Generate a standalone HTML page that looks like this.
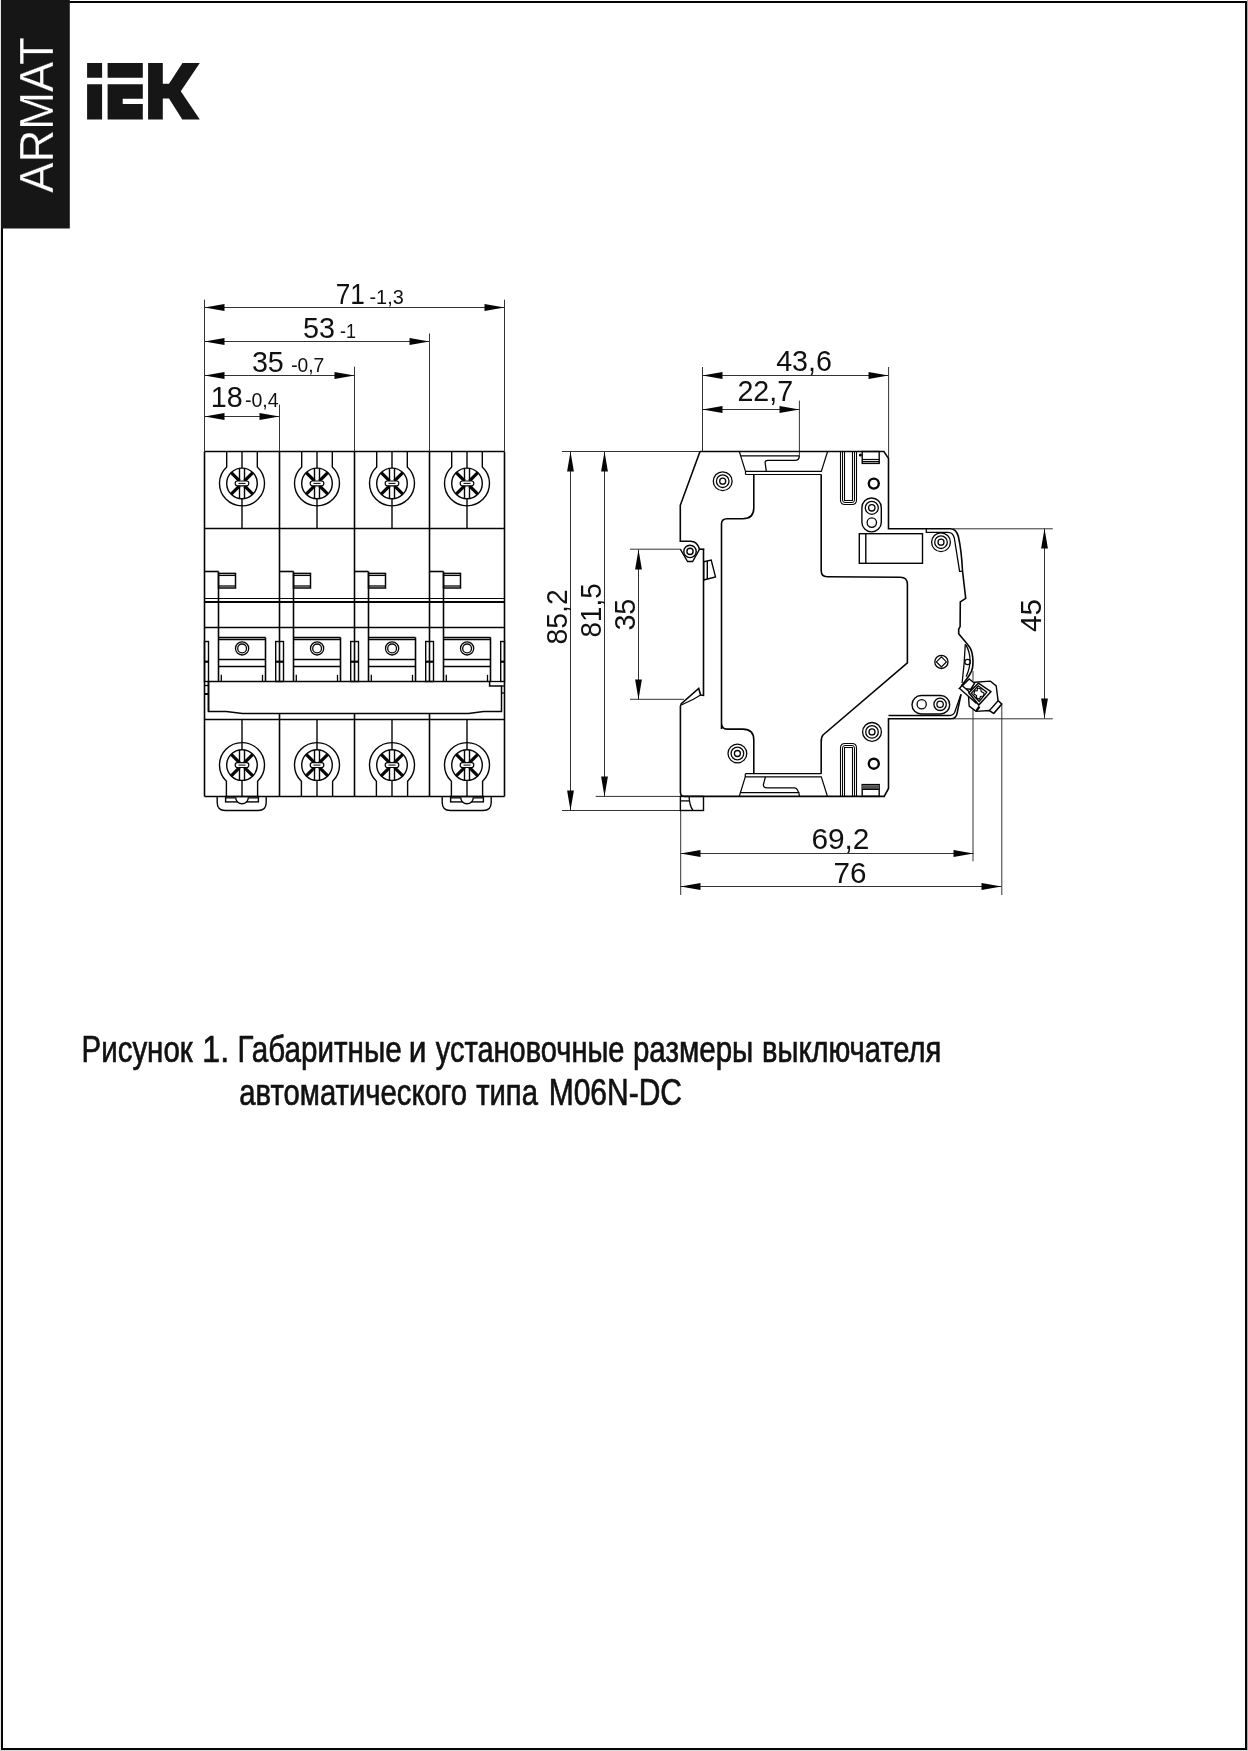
<!DOCTYPE html>
<html><head><meta charset="utf-8"><style>
html,body{margin:0;padding:0;background:#fff;}
body{width:1248px;height:1751px;overflow:hidden;position:relative;}
svg{position:absolute;left:0;top:0;will-change:transform;}
</style></head><body>
<svg width="1248" height="1751" viewBox="0 0 1248 1751" font-family="Liberation Sans, sans-serif">
<rect x="0" y="0" width="1248" height="1751" fill="#fff"/>
<rect x="0" y="0" width="1" height="1751" fill="#e6e6e6"/>
<rect x="1247" y="0" width="1" height="1751" fill="#a8a8a8"/>
<rect x="0" y="1750" width="1248" height="1" fill="#d8d8d8"/>
<rect x="2" y="2" width="1244" height="1747" fill="none" stroke="#050505" stroke-width="2"/>
<rect x="1" y="0" width="68.8" height="228.5" fill="#161616"/>
<text transform="translate(52.5,192.8) rotate(-90)" font-size="47.9" fill="#fff" stroke="#161616" stroke-width="0.3" textLength="155.5" lengthAdjust="spacingAndGlyphs">ARMAT</text>
<path d="M87.1,63.1 H102.1 V77.7 H87.1 Z M87.1,84.2 H102.1 V119.4 H87.1 Z M107.6,63.1 H142.8 V77.7 H107.6 Z M107.6,84.2 H142.8 V98.75 H122.7 V104 H142.8 V119.4 H107.6 Z M148.1,63.1 H162.8 V83.8 H169 L182.5,63.1 H199.8 L180.8,91.25 L199.8,119.5 H182.3 L169,98.5 H162.8 V119.5 H148.1 Z" fill="#161616"/>
<line x1="204.5" y1="451.5" x2="504.5" y2="451.5" stroke="#050505" stroke-width="1.6"/>
<line x1="204.5" y1="528.5" x2="504.5" y2="528.5" stroke="#050505" stroke-width="1.6"/>
<line x1="204.5" y1="598.5" x2="504.5" y2="598.5" stroke="#050505" stroke-width="1.2"/>
<line x1="204.5" y1="602.0" x2="504.5" y2="602.0" stroke="#050505" stroke-width="2.0"/>
<line x1="204.5" y1="627.5" x2="504.5" y2="627.5" stroke="#050505" stroke-width="1.6"/>
<line x1="204.5" y1="719.5" x2="504.5" y2="719.5" stroke="#050505" stroke-width="1.6"/>
<line x1="204.5" y1="796.5" x2="504.5" y2="796.5" stroke="#050505" stroke-width="1.6"/>
<line x1="204.5" y1="451.5" x2="204.5" y2="796.5" stroke="#050505" stroke-width="1.6"/>
<line x1="504.5" y1="451.5" x2="504.5" y2="796.5" stroke="#050505" stroke-width="1.6"/>
<line x1="279.5" y1="451.5" x2="279.5" y2="681.5" stroke="#050505" stroke-width="1.6"/>
<line x1="279.5" y1="713.5" x2="279.5" y2="796.5" stroke="#050505" stroke-width="1.6"/>
<line x1="354.5" y1="451.5" x2="354.5" y2="681.5" stroke="#050505" stroke-width="1.6"/>
<line x1="354.5" y1="713.5" x2="354.5" y2="796.5" stroke="#050505" stroke-width="1.6"/>
<line x1="429.5" y1="451.5" x2="429.5" y2="681.5" stroke="#050505" stroke-width="1.6"/>
<line x1="429.5" y1="713.5" x2="429.5" y2="796.5" stroke="#050505" stroke-width="1.6"/>
<path d="M226.7,451.5 L226.7,466.9 A22.5,22.5 0 1 0 257.3,466.9 L257.3,451.5" stroke="#050505" stroke-width="1.4" fill="none"/>
<line x1="242.0" y1="451.5" x2="242.0" y2="468.1" stroke="#050505" stroke-width="1.4"/>
<line x1="242.0" y1="498.7" x2="242.0" y2="528.5" stroke="#050505" stroke-width="1.4"/>
<circle cx="242.0" cy="483.4" r="15.3" stroke="#050505" stroke-width="1.4" fill="none"/>
<line x1="244.5" y1="485.9" x2="252.8" y2="494.2" stroke="#050505" stroke-width="3.3"/>
<line x1="244.5" y1="480.9" x2="252.8" y2="472.6" stroke="#050505" stroke-width="3.3"/>
<line x1="239.5" y1="485.9" x2="231.2" y2="494.2" stroke="#050505" stroke-width="3.3"/>
<line x1="239.5" y1="480.9" x2="231.2" y2="472.6" stroke="#050505" stroke-width="3.3"/>
<line x1="239.5" y1="468.4" x2="239.5" y2="498.4" stroke="#050505" stroke-width="1.4"/>
<line x1="244.5" y1="468.4" x2="244.5" y2="498.4" stroke="#050505" stroke-width="1.4"/>
<rect x="235.2" y="481.0" width="13.6" height="4.8" rx="2.2" fill="#fff" stroke="#050505" stroke-width="1.2"/>
<line x1="238.5" y1="483.4" x2="245.5" y2="483.4" stroke="#050505" stroke-width="1.0"/>
<line x1="204.5" y1="571.5" x2="218.5" y2="571.5" stroke="#050505" stroke-width="1.6"/>
<line x1="218.5" y1="571.5" x2="218.5" y2="681.5" stroke="#050505" stroke-width="1.6"/>
<rect x="218.5" y="573.4" width="17.0" height="14.6" rx="0" stroke="#050505" stroke-width="1.5" fill="none"/>
<line x1="218.5" y1="575.4" x2="235.5" y2="575.4" stroke="#050505" stroke-width="1.3"/>
<line x1="218.5" y1="586.0" x2="235.5" y2="586.0" stroke="#050505" stroke-width="1.3"/>
<line x1="218.5" y1="637.5" x2="265.5" y2="637.5" stroke="#050505" stroke-width="1.5"/>
<line x1="218.5" y1="639.5" x2="265.5" y2="639.5" stroke="#050505" stroke-width="1.5"/>
<line x1="265.5" y1="637.5" x2="265.5" y2="681.5" stroke="#050505" stroke-width="1.6"/>
<line x1="218.5" y1="659.5" x2="265.5" y2="659.5" stroke="#050505" stroke-width="1.6"/>
<line x1="218.5" y1="666.5" x2="265.5" y2="666.5" stroke="#050505" stroke-width="1.6"/>
<circle cx="242.1" cy="648.4" r="6.6" stroke="#050505" stroke-width="1.3" fill="none"/>
<circle cx="242.1" cy="648.4" r="4.4" stroke="#050505" stroke-width="1.3" fill="none"/>
<line x1="221.3" y1="674.8" x2="221.3" y2="681.5" stroke="#050505" stroke-width="1.3"/>
<line x1="262.5" y1="674.8" x2="262.5" y2="681.5" stroke="#050505" stroke-width="1.3"/>
<path d="M226.4,796.5 L226.4,781.3 A22.5,22.5 0 1 1 257.6,781.3 L257.6,796.5" stroke="#050505" stroke-width="1.4" fill="none"/>
<line x1="242.0" y1="719.5" x2="242.0" y2="749.8" stroke="#050505" stroke-width="1.4"/>
<line x1="242.0" y1="780.4" x2="242.0" y2="796.5" stroke="#050505" stroke-width="1.4"/>
<circle cx="242.0" cy="765.1" r="15.3" stroke="#050505" stroke-width="1.4" fill="none"/>
<line x1="244.5" y1="767.6" x2="252.8" y2="775.9" stroke="#050505" stroke-width="3.3"/>
<line x1="244.5" y1="762.6" x2="252.8" y2="754.3" stroke="#050505" stroke-width="3.3"/>
<line x1="239.5" y1="767.6" x2="231.2" y2="775.9" stroke="#050505" stroke-width="3.3"/>
<line x1="239.5" y1="762.6" x2="231.2" y2="754.3" stroke="#050505" stroke-width="3.3"/>
<line x1="239.5" y1="750.1" x2="239.5" y2="780.1" stroke="#050505" stroke-width="1.4"/>
<line x1="244.5" y1="750.1" x2="244.5" y2="780.1" stroke="#050505" stroke-width="1.4"/>
<rect x="235.2" y="762.7" width="13.6" height="4.8" rx="2.2" fill="#fff" stroke="#050505" stroke-width="1.2"/>
<line x1="238.5" y1="765.1" x2="245.5" y2="765.1" stroke="#050505" stroke-width="1.0"/>
<path d="M301.7,451.5 L301.7,466.9 A22.5,22.5 0 1 0 332.3,466.9 L332.3,451.5" stroke="#050505" stroke-width="1.4" fill="none"/>
<line x1="317.0" y1="451.5" x2="317.0" y2="468.1" stroke="#050505" stroke-width="1.4"/>
<line x1="317.0" y1="498.7" x2="317.0" y2="528.5" stroke="#050505" stroke-width="1.4"/>
<circle cx="317.0" cy="483.4" r="15.3" stroke="#050505" stroke-width="1.4" fill="none"/>
<line x1="319.5" y1="485.9" x2="327.8" y2="494.2" stroke="#050505" stroke-width="3.3"/>
<line x1="319.5" y1="480.9" x2="327.8" y2="472.6" stroke="#050505" stroke-width="3.3"/>
<line x1="314.5" y1="485.9" x2="306.2" y2="494.2" stroke="#050505" stroke-width="3.3"/>
<line x1="314.5" y1="480.9" x2="306.2" y2="472.6" stroke="#050505" stroke-width="3.3"/>
<line x1="314.5" y1="468.4" x2="314.5" y2="498.4" stroke="#050505" stroke-width="1.4"/>
<line x1="319.5" y1="468.4" x2="319.5" y2="498.4" stroke="#050505" stroke-width="1.4"/>
<rect x="310.2" y="481.0" width="13.6" height="4.8" rx="2.2" fill="#fff" stroke="#050505" stroke-width="1.2"/>
<line x1="313.5" y1="483.4" x2="320.5" y2="483.4" stroke="#050505" stroke-width="1.0"/>
<line x1="279.5" y1="571.5" x2="293.5" y2="571.5" stroke="#050505" stroke-width="1.6"/>
<line x1="293.5" y1="571.5" x2="293.5" y2="681.5" stroke="#050505" stroke-width="1.6"/>
<rect x="293.5" y="573.4" width="17.0" height="14.6" rx="0" stroke="#050505" stroke-width="1.5" fill="none"/>
<line x1="293.5" y1="575.4" x2="310.5" y2="575.4" stroke="#050505" stroke-width="1.3"/>
<line x1="293.5" y1="586.0" x2="310.5" y2="586.0" stroke="#050505" stroke-width="1.3"/>
<line x1="293.5" y1="637.5" x2="340.5" y2="637.5" stroke="#050505" stroke-width="1.5"/>
<line x1="293.5" y1="639.5" x2="340.5" y2="639.5" stroke="#050505" stroke-width="1.5"/>
<line x1="340.5" y1="637.5" x2="340.5" y2="681.5" stroke="#050505" stroke-width="1.6"/>
<line x1="293.5" y1="659.5" x2="340.5" y2="659.5" stroke="#050505" stroke-width="1.6"/>
<line x1="293.5" y1="666.5" x2="340.5" y2="666.5" stroke="#050505" stroke-width="1.6"/>
<circle cx="317.1" cy="648.4" r="6.6" stroke="#050505" stroke-width="1.3" fill="none"/>
<circle cx="317.1" cy="648.4" r="4.4" stroke="#050505" stroke-width="1.3" fill="none"/>
<line x1="296.3" y1="674.8" x2="296.3" y2="681.5" stroke="#050505" stroke-width="1.3"/>
<line x1="337.5" y1="674.8" x2="337.5" y2="681.5" stroke="#050505" stroke-width="1.3"/>
<path d="M301.4,796.5 L301.4,781.3 A22.5,22.5 0 1 1 332.6,781.3 L332.6,796.5" stroke="#050505" stroke-width="1.4" fill="none"/>
<line x1="317.0" y1="719.5" x2="317.0" y2="749.8" stroke="#050505" stroke-width="1.4"/>
<line x1="317.0" y1="780.4" x2="317.0" y2="796.5" stroke="#050505" stroke-width="1.4"/>
<circle cx="317.0" cy="765.1" r="15.3" stroke="#050505" stroke-width="1.4" fill="none"/>
<line x1="319.5" y1="767.6" x2="327.8" y2="775.9" stroke="#050505" stroke-width="3.3"/>
<line x1="319.5" y1="762.6" x2="327.8" y2="754.3" stroke="#050505" stroke-width="3.3"/>
<line x1="314.5" y1="767.6" x2="306.2" y2="775.9" stroke="#050505" stroke-width="3.3"/>
<line x1="314.5" y1="762.6" x2="306.2" y2="754.3" stroke="#050505" stroke-width="3.3"/>
<line x1="314.5" y1="750.1" x2="314.5" y2="780.1" stroke="#050505" stroke-width="1.4"/>
<line x1="319.5" y1="750.1" x2="319.5" y2="780.1" stroke="#050505" stroke-width="1.4"/>
<rect x="310.2" y="762.7" width="13.6" height="4.8" rx="2.2" fill="#fff" stroke="#050505" stroke-width="1.2"/>
<line x1="313.5" y1="765.1" x2="320.5" y2="765.1" stroke="#050505" stroke-width="1.0"/>
<path d="M376.7,451.5 L376.7,466.9 A22.5,22.5 0 1 0 407.3,466.9 L407.3,451.5" stroke="#050505" stroke-width="1.4" fill="none"/>
<line x1="392.0" y1="451.5" x2="392.0" y2="468.1" stroke="#050505" stroke-width="1.4"/>
<line x1="392.0" y1="498.7" x2="392.0" y2="528.5" stroke="#050505" stroke-width="1.4"/>
<circle cx="392.0" cy="483.4" r="15.3" stroke="#050505" stroke-width="1.4" fill="none"/>
<line x1="394.5" y1="485.9" x2="402.8" y2="494.2" stroke="#050505" stroke-width="3.3"/>
<line x1="394.5" y1="480.9" x2="402.8" y2="472.6" stroke="#050505" stroke-width="3.3"/>
<line x1="389.5" y1="485.9" x2="381.2" y2="494.2" stroke="#050505" stroke-width="3.3"/>
<line x1="389.5" y1="480.9" x2="381.2" y2="472.6" stroke="#050505" stroke-width="3.3"/>
<line x1="389.5" y1="468.4" x2="389.5" y2="498.4" stroke="#050505" stroke-width="1.4"/>
<line x1="394.5" y1="468.4" x2="394.5" y2="498.4" stroke="#050505" stroke-width="1.4"/>
<rect x="385.2" y="481.0" width="13.6" height="4.8" rx="2.2" fill="#fff" stroke="#050505" stroke-width="1.2"/>
<line x1="388.5" y1="483.4" x2="395.5" y2="483.4" stroke="#050505" stroke-width="1.0"/>
<line x1="354.5" y1="571.5" x2="368.5" y2="571.5" stroke="#050505" stroke-width="1.6"/>
<line x1="368.5" y1="571.5" x2="368.5" y2="681.5" stroke="#050505" stroke-width="1.6"/>
<rect x="368.5" y="573.4" width="17.0" height="14.6" rx="0" stroke="#050505" stroke-width="1.5" fill="none"/>
<line x1="368.5" y1="575.4" x2="385.5" y2="575.4" stroke="#050505" stroke-width="1.3"/>
<line x1="368.5" y1="586.0" x2="385.5" y2="586.0" stroke="#050505" stroke-width="1.3"/>
<line x1="368.5" y1="637.5" x2="415.5" y2="637.5" stroke="#050505" stroke-width="1.5"/>
<line x1="368.5" y1="639.5" x2="415.5" y2="639.5" stroke="#050505" stroke-width="1.5"/>
<line x1="415.5" y1="637.5" x2="415.5" y2="681.5" stroke="#050505" stroke-width="1.6"/>
<line x1="368.5" y1="659.5" x2="415.5" y2="659.5" stroke="#050505" stroke-width="1.6"/>
<line x1="368.5" y1="666.5" x2="415.5" y2="666.5" stroke="#050505" stroke-width="1.6"/>
<circle cx="392.1" cy="648.4" r="6.6" stroke="#050505" stroke-width="1.3" fill="none"/>
<circle cx="392.1" cy="648.4" r="4.4" stroke="#050505" stroke-width="1.3" fill="none"/>
<line x1="371.3" y1="674.8" x2="371.3" y2="681.5" stroke="#050505" stroke-width="1.3"/>
<line x1="412.5" y1="674.8" x2="412.5" y2="681.5" stroke="#050505" stroke-width="1.3"/>
<path d="M376.4,796.5 L376.4,781.3 A22.5,22.5 0 1 1 407.6,781.3 L407.6,796.5" stroke="#050505" stroke-width="1.4" fill="none"/>
<line x1="392.0" y1="719.5" x2="392.0" y2="749.8" stroke="#050505" stroke-width="1.4"/>
<line x1="392.0" y1="780.4" x2="392.0" y2="796.5" stroke="#050505" stroke-width="1.4"/>
<circle cx="392.0" cy="765.1" r="15.3" stroke="#050505" stroke-width="1.4" fill="none"/>
<line x1="394.5" y1="767.6" x2="402.8" y2="775.9" stroke="#050505" stroke-width="3.3"/>
<line x1="394.5" y1="762.6" x2="402.8" y2="754.3" stroke="#050505" stroke-width="3.3"/>
<line x1="389.5" y1="767.6" x2="381.2" y2="775.9" stroke="#050505" stroke-width="3.3"/>
<line x1="389.5" y1="762.6" x2="381.2" y2="754.3" stroke="#050505" stroke-width="3.3"/>
<line x1="389.5" y1="750.1" x2="389.5" y2="780.1" stroke="#050505" stroke-width="1.4"/>
<line x1="394.5" y1="750.1" x2="394.5" y2="780.1" stroke="#050505" stroke-width="1.4"/>
<rect x="385.2" y="762.7" width="13.6" height="4.8" rx="2.2" fill="#fff" stroke="#050505" stroke-width="1.2"/>
<line x1="388.5" y1="765.1" x2="395.5" y2="765.1" stroke="#050505" stroke-width="1.0"/>
<path d="M451.7,451.5 L451.7,466.9 A22.5,22.5 0 1 0 482.3,466.9 L482.3,451.5" stroke="#050505" stroke-width="1.4" fill="none"/>
<line x1="467.0" y1="451.5" x2="467.0" y2="468.1" stroke="#050505" stroke-width="1.4"/>
<line x1="467.0" y1="498.7" x2="467.0" y2="528.5" stroke="#050505" stroke-width="1.4"/>
<circle cx="467.0" cy="483.4" r="15.3" stroke="#050505" stroke-width="1.4" fill="none"/>
<line x1="469.5" y1="485.9" x2="477.8" y2="494.2" stroke="#050505" stroke-width="3.3"/>
<line x1="469.5" y1="480.9" x2="477.8" y2="472.6" stroke="#050505" stroke-width="3.3"/>
<line x1="464.5" y1="485.9" x2="456.2" y2="494.2" stroke="#050505" stroke-width="3.3"/>
<line x1="464.5" y1="480.9" x2="456.2" y2="472.6" stroke="#050505" stroke-width="3.3"/>
<line x1="464.5" y1="468.4" x2="464.5" y2="498.4" stroke="#050505" stroke-width="1.4"/>
<line x1="469.5" y1="468.4" x2="469.5" y2="498.4" stroke="#050505" stroke-width="1.4"/>
<rect x="460.2" y="481.0" width="13.6" height="4.8" rx="2.2" fill="#fff" stroke="#050505" stroke-width="1.2"/>
<line x1="463.5" y1="483.4" x2="470.5" y2="483.4" stroke="#050505" stroke-width="1.0"/>
<line x1="429.5" y1="571.5" x2="443.5" y2="571.5" stroke="#050505" stroke-width="1.6"/>
<line x1="443.5" y1="571.5" x2="443.5" y2="681.5" stroke="#050505" stroke-width="1.6"/>
<rect x="443.5" y="573.4" width="17.0" height="14.6" rx="0" stroke="#050505" stroke-width="1.5" fill="none"/>
<line x1="443.5" y1="575.4" x2="460.5" y2="575.4" stroke="#050505" stroke-width="1.3"/>
<line x1="443.5" y1="586.0" x2="460.5" y2="586.0" stroke="#050505" stroke-width="1.3"/>
<line x1="443.5" y1="637.5" x2="490.5" y2="637.5" stroke="#050505" stroke-width="1.5"/>
<line x1="443.5" y1="639.5" x2="490.5" y2="639.5" stroke="#050505" stroke-width="1.5"/>
<line x1="490.5" y1="637.5" x2="490.5" y2="681.5" stroke="#050505" stroke-width="1.6"/>
<line x1="443.5" y1="659.5" x2="490.5" y2="659.5" stroke="#050505" stroke-width="1.6"/>
<line x1="443.5" y1="666.5" x2="490.5" y2="666.5" stroke="#050505" stroke-width="1.6"/>
<circle cx="467.1" cy="648.4" r="6.6" stroke="#050505" stroke-width="1.3" fill="none"/>
<circle cx="467.1" cy="648.4" r="4.4" stroke="#050505" stroke-width="1.3" fill="none"/>
<line x1="446.3" y1="674.8" x2="446.3" y2="681.5" stroke="#050505" stroke-width="1.3"/>
<line x1="487.5" y1="674.8" x2="487.5" y2="681.5" stroke="#050505" stroke-width="1.3"/>
<path d="M451.4,796.5 L451.4,781.3 A22.5,22.5 0 1 1 482.6,781.3 L482.6,796.5" stroke="#050505" stroke-width="1.4" fill="none"/>
<line x1="467.0" y1="719.5" x2="467.0" y2="749.8" stroke="#050505" stroke-width="1.4"/>
<line x1="467.0" y1="780.4" x2="467.0" y2="796.5" stroke="#050505" stroke-width="1.4"/>
<circle cx="467.0" cy="765.1" r="15.3" stroke="#050505" stroke-width="1.4" fill="none"/>
<line x1="469.5" y1="767.6" x2="477.8" y2="775.9" stroke="#050505" stroke-width="3.3"/>
<line x1="469.5" y1="762.6" x2="477.8" y2="754.3" stroke="#050505" stroke-width="3.3"/>
<line x1="464.5" y1="767.6" x2="456.2" y2="775.9" stroke="#050505" stroke-width="3.3"/>
<line x1="464.5" y1="762.6" x2="456.2" y2="754.3" stroke="#050505" stroke-width="3.3"/>
<line x1="464.5" y1="750.1" x2="464.5" y2="780.1" stroke="#050505" stroke-width="1.4"/>
<line x1="469.5" y1="750.1" x2="469.5" y2="780.1" stroke="#050505" stroke-width="1.4"/>
<rect x="460.2" y="762.7" width="13.6" height="4.8" rx="2.2" fill="#fff" stroke="#050505" stroke-width="1.2"/>
<line x1="463.5" y1="765.1" x2="470.5" y2="765.1" stroke="#050505" stroke-width="1.0"/>
<rect x="204.5" y="641.5" width="4.0" height="40.0" rx="0" stroke="#050505" stroke-width="1.4" fill="none"/>
<line x1="204.5" y1="661.7" x2="208.5" y2="661.7" stroke="#050505" stroke-width="2.2"/>
<rect x="275.7" y="641.5" width="7.8" height="40.0" rx="0" stroke="#050505" stroke-width="1.4" fill="none"/>
<line x1="275.7" y1="661.7" x2="283.5" y2="661.7" stroke="#050505" stroke-width="2.2"/>
<rect x="350.7" y="641.5" width="7.8" height="40.0" rx="0" stroke="#050505" stroke-width="1.4" fill="none"/>
<line x1="350.7" y1="661.7" x2="358.5" y2="661.7" stroke="#050505" stroke-width="2.2"/>
<rect x="425.7" y="641.5" width="7.8" height="40.0" rx="0" stroke="#050505" stroke-width="1.4" fill="none"/>
<line x1="425.7" y1="661.7" x2="433.5" y2="661.7" stroke="#050505" stroke-width="2.2"/>
<rect x="500.7" y="641.5" width="3.8" height="40.0" rx="0" stroke="#050505" stroke-width="1.4" fill="none"/>
<line x1="500.7" y1="661.7" x2="504.5" y2="661.7" stroke="#050505" stroke-width="2.2"/>
<path d="M208.5,681.5 L489.6,681.5 L489.6,686 L501.5,686 L501.5,711.5 L483.6,711.5 L468.5,713.5 L242.5,713.5 L226.2,711.5 L208.5,711.5 Z" stroke="#050505" stroke-width="1.5" fill="none"/>
<line x1="489.6" y1="681.5" x2="501.5" y2="681.5" stroke="#050505" stroke-width="1.3"/>
<line x1="208.5" y1="681.5" x2="208.5" y2="711.5" stroke="#050505" stroke-width="1.6"/>
<line x1="204.5" y1="685.5" x2="208.5" y2="685.5" stroke="#050505" stroke-width="1.3"/>
<line x1="204.5" y1="694.0" x2="208.5" y2="694.0" stroke="#050505" stroke-width="2.0"/>
<line x1="501.5" y1="686.0" x2="504.5" y2="686.0" stroke="#050505" stroke-width="1.3"/>
<line x1="501.5" y1="693.0" x2="504.5" y2="693.0" stroke="#050505" stroke-width="1.3"/>
<path d="M217.2,796.5 L217.2,802.5 Q217.2,810.5 225.2,810.5 L258.2,810.5 Q266.2,810.5 266.2,802.5 L266.2,796.5" stroke="#050505" stroke-width="1.4" fill="none"/>
<rect x="225.6" y="796.5" width="32.8" height="5.4" rx="0" stroke="#050505" stroke-width="1.4" fill="none"/>
<line x1="225.6" y1="797.9" x2="258.4" y2="797.9" stroke="#050505" stroke-width="1.3"/>
<path d="M235.7,797.5 A6.3,6.3 0 0 0 248.3,797.5" stroke="#050505" stroke-width="1.4" fill="#fff"/>
<path d="M442.2,796.5 L442.2,802.5 Q442.2,810.5 450.2,810.5 L483.2,810.5 Q491.2,810.5 491.2,802.5 L491.2,796.5" stroke="#050505" stroke-width="1.4" fill="none"/>
<rect x="450.6" y="796.5" width="32.8" height="5.4" rx="0" stroke="#050505" stroke-width="1.4" fill="none"/>
<line x1="450.6" y1="797.9" x2="483.4" y2="797.9" stroke="#050505" stroke-width="1.3"/>
<path d="M460.7,797.5 A6.3,6.3 0 0 0 473.3,797.5" stroke="#050505" stroke-width="1.4" fill="#fff"/>
<line x1="204.5" y1="299.7" x2="204.5" y2="451.5" stroke="#333" stroke-width="1.0"/>
<line x1="504.5" y1="299.7" x2="504.5" y2="451.5" stroke="#333" stroke-width="1.0"/>
<line x1="429.5" y1="333.5" x2="429.5" y2="451.5" stroke="#333" stroke-width="1.0"/>
<line x1="354.5" y1="366.7" x2="354.5" y2="451.5" stroke="#333" stroke-width="1.0"/>
<line x1="279.5" y1="404.6" x2="279.5" y2="451.5" stroke="#333" stroke-width="1.0"/>
<line x1="204.5" y1="307.5" x2="504.5" y2="307.5" stroke="#333" stroke-width="1.0"/>
<path d="M204.5,307.5 L224.5,304.1 L224.5,310.9 Z" fill="#050505"/>
<path d="M504.5,307.5 L484.5,304.1 L484.5,310.9 Z" fill="#050505"/>
<line x1="204.5" y1="341.5" x2="429.5" y2="341.5" stroke="#333" stroke-width="1.0"/>
<path d="M204.5,341.5 L224.5,338.1 L224.5,344.9 Z" fill="#050505"/>
<path d="M429.5,341.5 L409.5,338.1 L409.5,344.9 Z" fill="#050505"/>
<line x1="204.5" y1="375.5" x2="354.5" y2="375.5" stroke="#333" stroke-width="1.0"/>
<path d="M204.5,375.5 L224.5,372.1 L224.5,378.9 Z" fill="#050505"/>
<path d="M354.5,375.5 L334.5,372.1 L334.5,378.9 Z" fill="#050505"/>
<line x1="204.5" y1="416.5" x2="279.5" y2="416.5" stroke="#333" stroke-width="1.0"/>
<path d="M204.5,416.5 L224.5,413.1 L224.5,419.9 Z" fill="#050505"/>
<path d="M279.5,416.5 L259.5,413.1 L259.5,419.9 Z" fill="#050505"/>
<line x1="562.0" y1="451.5" x2="700.0" y2="451.5" stroke="#333" stroke-width="1.0"/>
<line x1="562.0" y1="810.5" x2="703.5" y2="810.5" stroke="#333" stroke-width="1.0"/>
<line x1="595.7" y1="796.4" x2="681.0" y2="796.4" stroke="#333" stroke-width="1.0"/>
<line x1="630.0" y1="549.2" x2="680.3" y2="549.2" stroke="#333" stroke-width="1.0"/>
<line x1="699.6" y1="549.2" x2="704.4" y2="549.2" stroke="#333" stroke-width="1.0"/>
<line x1="630.0" y1="699.3" x2="684.0" y2="699.3" stroke="#333" stroke-width="1.0"/>
<line x1="702.5" y1="367.0" x2="702.5" y2="451.5" stroke="#333" stroke-width="1.0"/>
<line x1="888.6" y1="367.0" x2="888.6" y2="458.4" stroke="#333" stroke-width="1.0"/>
<line x1="799.4" y1="400.6" x2="799.4" y2="455.5" stroke="#333" stroke-width="1.0"/>
<line x1="953.0" y1="528.8" x2="1052.8" y2="528.8" stroke="#333" stroke-width="1.0"/>
<line x1="953.0" y1="718.8" x2="1052.8" y2="718.8" stroke="#333" stroke-width="1.0"/>
<line x1="680.7" y1="810.5" x2="680.7" y2="895.0" stroke="#333" stroke-width="1.0"/>
<line x1="973.0" y1="671.0" x2="973.0" y2="861.3" stroke="#333" stroke-width="1.0"/>
<line x1="1001.8" y1="705.0" x2="1001.8" y2="895.0" stroke="#333" stroke-width="1.0"/>
<line x1="570.5" y1="451.5" x2="570.5" y2="810.5" stroke="#333" stroke-width="1.0"/>
<path d="M570.5,451.5 L567.1,471.5 L573.9,471.5 Z" fill="#050505"/>
<path d="M570.5,810.5 L567.1,790.5 L573.9,790.5 Z" fill="#050505"/>
<line x1="604.5" y1="451.5" x2="604.5" y2="796.5" stroke="#333" stroke-width="1.0"/>
<path d="M604.5,451.5 L601.1,471.5 L607.9,471.5 Z" fill="#050505"/>
<path d="M604.5,796.5 L601.1,776.5 L607.9,776.5 Z" fill="#050505"/>
<line x1="638.5" y1="549.5" x2="638.5" y2="699.5" stroke="#333" stroke-width="1.0"/>
<path d="M638.5,549.5 L635.1,569.5 L641.9,569.5 Z" fill="#050505"/>
<path d="M638.5,699.5 L635.1,679.5 L641.9,679.5 Z" fill="#050505"/>
<line x1="1044.5" y1="528.5" x2="1044.5" y2="718.5" stroke="#333" stroke-width="1.0"/>
<path d="M1044.5,528.5 L1041.1,548.5 L1047.9,548.5 Z" fill="#050505"/>
<path d="M1044.5,718.5 L1041.1,698.5 L1047.9,698.5 Z" fill="#050505"/>
<line x1="702.5" y1="375.5" x2="888.5" y2="375.5" stroke="#333" stroke-width="1.0"/>
<path d="M702.5,375.5 L722.5,372.1 L722.5,378.9 Z" fill="#050505"/>
<path d="M888.5,375.5 L868.5,372.1 L868.5,378.9 Z" fill="#050505"/>
<line x1="702.5" y1="409.5" x2="799.5" y2="409.5" stroke="#333" stroke-width="1.0"/>
<path d="M702.5,409.5 L722.5,406.1 L722.5,412.9 Z" fill="#050505"/>
<path d="M799.5,409.5 L779.5,406.1 L779.5,412.9 Z" fill="#050505"/>
<line x1="680.5" y1="853.5" x2="973.5" y2="853.5" stroke="#333" stroke-width="1.0"/>
<path d="M680.5,853.5 L700.5,850.1 L700.5,856.9 Z" fill="#050505"/>
<path d="M973.5,853.5 L953.5,850.1 L953.5,856.9 Z" fill="#050505"/>
<line x1="680.5" y1="886.5" x2="1001.5" y2="886.5" stroke="#333" stroke-width="1.0"/>
<path d="M680.5,886.5 L700.5,883.1 L700.5,889.9 Z" fill="#050505"/>
<path d="M1001.5,886.5 L981.5,883.1 L981.5,889.9 Z" fill="#050505"/>
<path d="M700,451.5 L883.9,451.5 L888.5,458.4 L888.5,528.8 L950.6,528.8 Q956,529 958.3,536.2 Q961.5,550 962.5,570.8 L965.7,598.3 L960.3,601.9 L960.1,626.6 L958.7,629.1 L958.7,633.7 C962,638 966,642 969.5,647 C973,652 973.5,662 972.5,668 C971.5,674 966,680 961.3,686 M961,694.3 L957,713.7 Q956,718.8 951,718.8 L888.5,718.8 L888.5,788.5 L884.2,796.4 L684,796.4 Q680.4,796.4 680.4,792 L680.4,706.3 L681.3,703.6 L698.7,688.5 L700.6,695 L703.5,695.4 L703.5,549.2 L699.6,549.2 Q697,541.3 690.5,541.3 L680.3,541.3 L680.3,505.3 L700,451.5" stroke="#050505" stroke-width="1.6" fill="none"/>
<path d="M680.3,549.2 L687.6,561.5 L692.6,561.5 L699.6,549.2" stroke="#050505" stroke-width="1.4" fill="none"/>
<circle cx="690.0" cy="551.4" r="6.2" stroke="#050505" stroke-width="1.4" fill="none"/>
<circle cx="690.0" cy="551.4" r="3.1" stroke="#050505" stroke-width="1.4" fill="none"/>
<path d="M703.7,561.7 L711.2,560.0 L715.5,576.9 L703.7,580.0 Z" stroke="#050505" stroke-width="1.4" fill="none"/>
<line x1="707.3" y1="561.0" x2="707.3" y2="579.0" stroke="#050505" stroke-width="1.4"/>
<path d="M681.3,705.0 L693.4,699.3 L700.6,695.0" stroke="#050505" stroke-width="1.3" fill="none"/>
<rect x="680.4" y="796.4" width="23.1" height="14.1" rx="0" stroke="#050505" stroke-width="1.4" fill="none"/>
<line x1="680.4" y1="800.9" x2="689.1" y2="800.9" stroke="#050505" stroke-width="1.3"/>
<path d="M689.1,796.4 Q689.5,806 693,810.5" stroke="#050505" stroke-width="1.3" fill="none"/>
<path d="M721.5,729 L721.5,524 Q721.5,518.7 727,518.7 L743,518.7 Q753.8,518.7 753.8,507.8 L753.8,474.5 M821.2,474.5 L821.2,570.5 Q821.2,576.7 827,576.7 L900.4,577.2 Q907.4,577.2 907.4,584.2 L907.4,662.8 L823,735 Q821.2,737 821.2,742 L821.2,773.7 M753.8,774 L753.8,740 Q753.8,729.1 743,729.1 L727,729.1 Q721.5,729.1 721.5,723" stroke="#050505" stroke-width="1.6" fill="none"/>
<path d="M739.3,451.5 L745.5,471.4 L821.3,471.4 L827.6,451.5" stroke="#050505" stroke-width="1.2" fill="none"/>
<line x1="745.5" y1="471.4" x2="745.5" y2="474.5" stroke="#050505" stroke-width="1.2"/>
<line x1="745.5" y1="474.5" x2="821.3" y2="474.5" stroke="#050505" stroke-width="1.2"/>
<line x1="740.8" y1="455.9" x2="799.4" y2="455.9" stroke="#050505" stroke-width="1.3"/>
<path d="M799.4,455.5 Q799.4,460.4 795,460.4 L768,460.4 Q764.7,460.4 765.2,463 L766.3,471.4" stroke="#050505" stroke-width="1.3" fill="none"/>
<path d="M739.2,796.5 L745.3,776.9 L821.3,776.9 L827.5,796.5" stroke="#050505" stroke-width="1.2" fill="none"/>
<line x1="745.3" y1="773.7" x2="745.3" y2="776.9" stroke="#050505" stroke-width="1.2"/>
<line x1="745.3" y1="773.7" x2="821.3" y2="773.7" stroke="#050505" stroke-width="1.2"/>
<line x1="741.0" y1="792.6" x2="799.4" y2="792.6" stroke="#050505" stroke-width="1.3"/>
<path d="M765.4,776.9 L763.4,784.5 Q763.2,787.8 767,787.8 L794.5,787.8 Q798,787.8 799.7,796.5" stroke="#050505" stroke-width="1.3" fill="none"/>
<circle cx="722.7" cy="481.2" r="9.4" stroke="#050505" stroke-width="1.3" fill="none"/>
<circle cx="722.7" cy="481.2" r="6.3" stroke="#050505" stroke-width="1.3" fill="none"/>
<circle cx="722.7" cy="481.2" r="3.0" stroke="#050505" stroke-width="1.3" fill="none"/>
<circle cx="737.4" cy="753.5" r="9.4" stroke="#050505" stroke-width="1.3" fill="none"/>
<circle cx="737.4" cy="753.5" r="6.3" stroke="#050505" stroke-width="1.3" fill="none"/>
<circle cx="737.4" cy="753.5" r="3.0" stroke="#050505" stroke-width="1.3" fill="none"/>
<circle cx="872.0" cy="731.9" r="9.4" stroke="#050505" stroke-width="1.3" fill="none"/>
<circle cx="872.0" cy="731.9" r="6.3" stroke="#050505" stroke-width="1.3" fill="none"/>
<circle cx="872.0" cy="731.9" r="3.0" stroke="#050505" stroke-width="1.3" fill="none"/>
<circle cx="941.0" cy="542.2" r="9.4" stroke="#050505" stroke-width="1.3" fill="none"/>
<circle cx="941.0" cy="542.2" r="6.3" stroke="#050505" stroke-width="1.3" fill="none"/>
<circle cx="941.0" cy="542.2" r="3.0" stroke="#050505" stroke-width="1.3" fill="none"/>
<circle cx="873.8" cy="483.6" r="5.0" stroke="#050505" stroke-width="2.4" fill="none"/>
<circle cx="873.8" cy="763.7" r="5.0" stroke="#050505" stroke-width="2.4" fill="none"/>
<path d="M840.5,451.5 L840.5,500 Q840.5,504.5 845,504.5 L852,504.5 Q856.5,504.5 856.5,500 L856.5,451.5" stroke="#050505" stroke-width="1.1" fill="none"/>
<path d="M842.5,451.5 L842.5,500 Q842.5,502.5 845,502.5 L852,502.5 Q854.5,502.5 854.5,500 L854.5,451.5" stroke="#050505" stroke-width="1.0" fill="none"/>
<path d="M844.5,451.5 L844.5,500.5 L852.5,500.5 L852.5,451.5" stroke="#050505" stroke-width="1.1" fill="none"/>
<path d="M840.5,796.4 L840.5,748 Q840.5,743.5 845,743.5 L852,743.5 Q856.5,743.5 856.5,748 L856.5,796.4" stroke="#050505" stroke-width="1.1" fill="none"/>
<path d="M842.5,796.4 L842.5,748 Q842.5,745.5 845,745.5 L852,745.5 Q854.5,745.5 854.5,748 L854.5,796.4" stroke="#050505" stroke-width="1.0" fill="none"/>
<path d="M844.5,796.4 L844.5,747.5 L852.5,747.5 L852.5,796.4" stroke="#050505" stroke-width="1.1" fill="none"/>
<rect x="862.2" y="451.5" width="17.0" height="11.9" rx="0" stroke="#050505" stroke-width="1.4" fill="none"/>
<line x1="862.2" y1="459.5" x2="879.2" y2="459.5" stroke="#050505" stroke-width="1.2"/>
<line x1="862.2" y1="461.6" x2="879.2" y2="461.6" stroke="#050505" stroke-width="1.2"/>
<rect x="862.2" y="784.6" width="17.0" height="11.8" rx="0" stroke="#050505" stroke-width="1.4" fill="none"/>
<rect x="862.2" y="785.2" width="17" height="4.2" fill="#555"/>
<line x1="862.2" y1="789.4" x2="879.2" y2="789.4" stroke="#050505" stroke-width="1.2"/>
<circle cx="860.4" cy="455.1" r="0.9" stroke="#050505" stroke-width="1.2" fill="#050505"/>
<rect x="861.9" y="498.0" width="19.4" height="33.9" rx="9.7" stroke="#050505" stroke-width="1.4" fill="none"/>
<circle cx="871.8" cy="507.8" r="6.5" stroke="#050505" stroke-width="1.3" fill="none"/>
<circle cx="871.8" cy="507.8" r="3.2" stroke="#050505" stroke-width="1.3" fill="none"/>
<circle cx="871.8" cy="522.6" r="4.7" stroke="#050505" stroke-width="1.3" fill="none"/>
<rect x="859.3" y="533.7" width="63.2" height="29.6" rx="0" stroke="#050505" stroke-width="1.4" fill="none"/>
<line x1="865.8" y1="533.7" x2="865.8" y2="563.3" stroke="#050505" stroke-width="1.4"/>
<rect x="912.0" y="695.5" width="37.7" height="18.5" rx="9.2" stroke="#050505" stroke-width="1.4" fill="none"/>
<circle cx="921.7" cy="704.3" r="4.6" stroke="#050505" stroke-width="1.3" fill="none"/>
<circle cx="940.1" cy="704.3" r="6.2" stroke="#050505" stroke-width="1.3" fill="none"/>
<circle cx="940.1" cy="704.3" r="3.2" stroke="#050505" stroke-width="1.3" fill="none"/>
<circle cx="941.4" cy="661.9" r="6.6" stroke="#050505" stroke-width="1.3" fill="none"/>
<path d="M941.4,656.9 L946.4,661.9 L941.4,666.9 L936.4,661.9 Z" stroke="#050505" stroke-width="1.2" fill="none"/>
<path d="M926.3,528.8 L926.3,532.3 L948,532.3 Q953,532.3 954.3,538 L959.6,571.4 L962.5,571.4" stroke="#050505" stroke-width="1.3" fill="none"/>
<path d="M962.1,684 M961,694.3 L954.6,712.5 Q953,715.5 949,715.5 L888.5,715.5" stroke="#050505" stroke-width="1.3" fill="none"/>
<path d="M965.3,644 Q964.5,664 962.1,683" stroke="#050505" stroke-width="1.3" fill="none"/>
<path d="M966.1,645.1 Q974,660 966.1,676.6" stroke="#050505" stroke-width="1.3" fill="none"/>
<circle cx="967.6" cy="662.0" r="2.7" stroke="#050505" stroke-width="1.2" fill="none"/>
<path d="M974.5,682.3 L990.4,681.1 L996.2,685.9 L998.1,700.8 L1001.7,704.0 L993.8,713.3 L989.4,710.5 L976.0,711.4 L969.2,706.1 L968.5,696.0 Z" stroke="#050505" stroke-width="1.4" fill="#fff"/>
<path d="M959.6,688.4 L969.2,678.9 L974.5,683.3 L970.6,689.3 Z" stroke="#050505" stroke-width="1.4" fill="#fff"/>
<path d="M959.6,688.4 L962.0,685.5 L978.8,700.0 L976.0,703.0 Z" stroke="#050505" stroke-width="1.4" fill="#fff"/>
<path d="M978.4,683.1 L990.9,691.7 L978.8,705.0 L968.8,692.7 Z" stroke="#050505" stroke-width="1.5" fill="#fff"/>
<path d="M978.2,685.8 L986.8,692.2 L979.2,701.5 L971.3,693.3 Z" stroke="#050505" stroke-width="1.3" fill="none"/>
<path d="M977.5,688.0 L980.8,689.0 L981.2,691.5 L984.0,693.0 L983.5,696.0 L980.5,696.5 L979.5,699.0 L976.5,698.0 L976.5,695.5 L974.0,694.0 L974.5,691.0 L977.2,690.7 Z" stroke="#050505" stroke-width="1.2" fill="none"/>
<path d="M998.1,700.8 L1001.7,704.0 L993.8,713.3 L989.4,710.5 Z" stroke="#050505" stroke-width="1.4" fill="#fff"/>
<line x1="976.0" y1="711.4" x2="979.5" y2="706.5" stroke="#050505" stroke-width="2.2"/>
<g fill="#111">
<text x="335.8" y="303.8" font-size="29.5" textLength="29.15" lengthAdjust="spacingAndGlyphs">71</text>
<text x="369.5" y="303.8" font-size="20.2" textLength="34.18" lengthAdjust="spacingAndGlyphs">-1,3</text>
<text x="303.0" y="337.8" font-size="29.5" textLength="31.94" lengthAdjust="spacingAndGlyphs">53</text>
<text x="340.0" y="337.8" font-size="20.2" textLength="15.98" lengthAdjust="spacingAndGlyphs">-1</text>
<text x="251.9" y="372.0" font-size="29.5" textLength="31.94" lengthAdjust="spacingAndGlyphs">35</text>
<text x="291.2" y="372.0" font-size="20.2" textLength="33.09" lengthAdjust="spacingAndGlyphs">-0,7</text>
<text x="210.7" y="406.9" font-size="29.5" textLength="31.92" lengthAdjust="spacingAndGlyphs">18</text>
<text x="245.0" y="406.9" font-size="20.2" textLength="33.65" lengthAdjust="spacingAndGlyphs">-0,4</text>
<text x="776.2" y="371.0" font-size="29.5" textLength="55.76" lengthAdjust="spacingAndGlyphs">43,6</text>
<text x="737.4" y="401.0" font-size="29.5" textLength="55.71" lengthAdjust="spacingAndGlyphs">22,7</text>
<text x="811.4" y="849.1" font-size="29.5" textLength="58.08" lengthAdjust="spacingAndGlyphs">69,2</text>
<text x="833.5" y="882.8" font-size="29.5" textLength="33.0" lengthAdjust="spacingAndGlyphs">76</text>
<text transform="translate(566.9,644.5) rotate(-90)" font-size="29.5" textLength="55.18" lengthAdjust="spacingAndGlyphs">85,2</text>
<text transform="translate(601.0,637.4) rotate(-90)" font-size="29.5" textLength="54.09" lengthAdjust="spacingAndGlyphs">81,5</text>
<text transform="translate(635.1,630.6) rotate(-90)" font-size="29.5" textLength="31.92" lengthAdjust="spacingAndGlyphs">35</text>
<text transform="translate(1040.9,631.9) rotate(-90)" font-size="29.5" textLength="33.05" lengthAdjust="spacingAndGlyphs">45</text>
<g stroke="#111" stroke-width="0.7">
<text x="81.5" y="1062" font-size="37.5" textLength="111.21" lengthAdjust="spacingAndGlyphs">Рисунок</text>
<text x="202.3" y="1062" font-size="37.5" textLength="26.75" lengthAdjust="spacingAndGlyphs">1.</text>
<text x="237.5" y="1062" font-size="37.5" textLength="164.17" lengthAdjust="spacingAndGlyphs">Габаритные</text>
<text x="408.8" y="1062" font-size="37.5" textLength="17.69" lengthAdjust="spacingAndGlyphs">и</text>
<text x="435.8" y="1062" font-size="37.5" textLength="188.58" lengthAdjust="spacingAndGlyphs">установочные</text>
<text x="632.9" y="1062" font-size="37.5" textLength="120.38" lengthAdjust="spacingAndGlyphs">размеры</text>
<text x="762" y="1062" font-size="37.5" textLength="179.29" lengthAdjust="spacingAndGlyphs">выключателя</text>
<text x="239.3" y="1105" font-size="37.5" textLength="227.81" lengthAdjust="spacingAndGlyphs">автоматического</text>
<text x="476.2" y="1105" font-size="37.5" textLength="61.7" lengthAdjust="spacingAndGlyphs">типа</text>
<text x="548.7" y="1105" font-size="37.5" textLength="133.24" lengthAdjust="spacingAndGlyphs">M06N-DC</text>
</g>
</g>
</svg>
</body></html>
